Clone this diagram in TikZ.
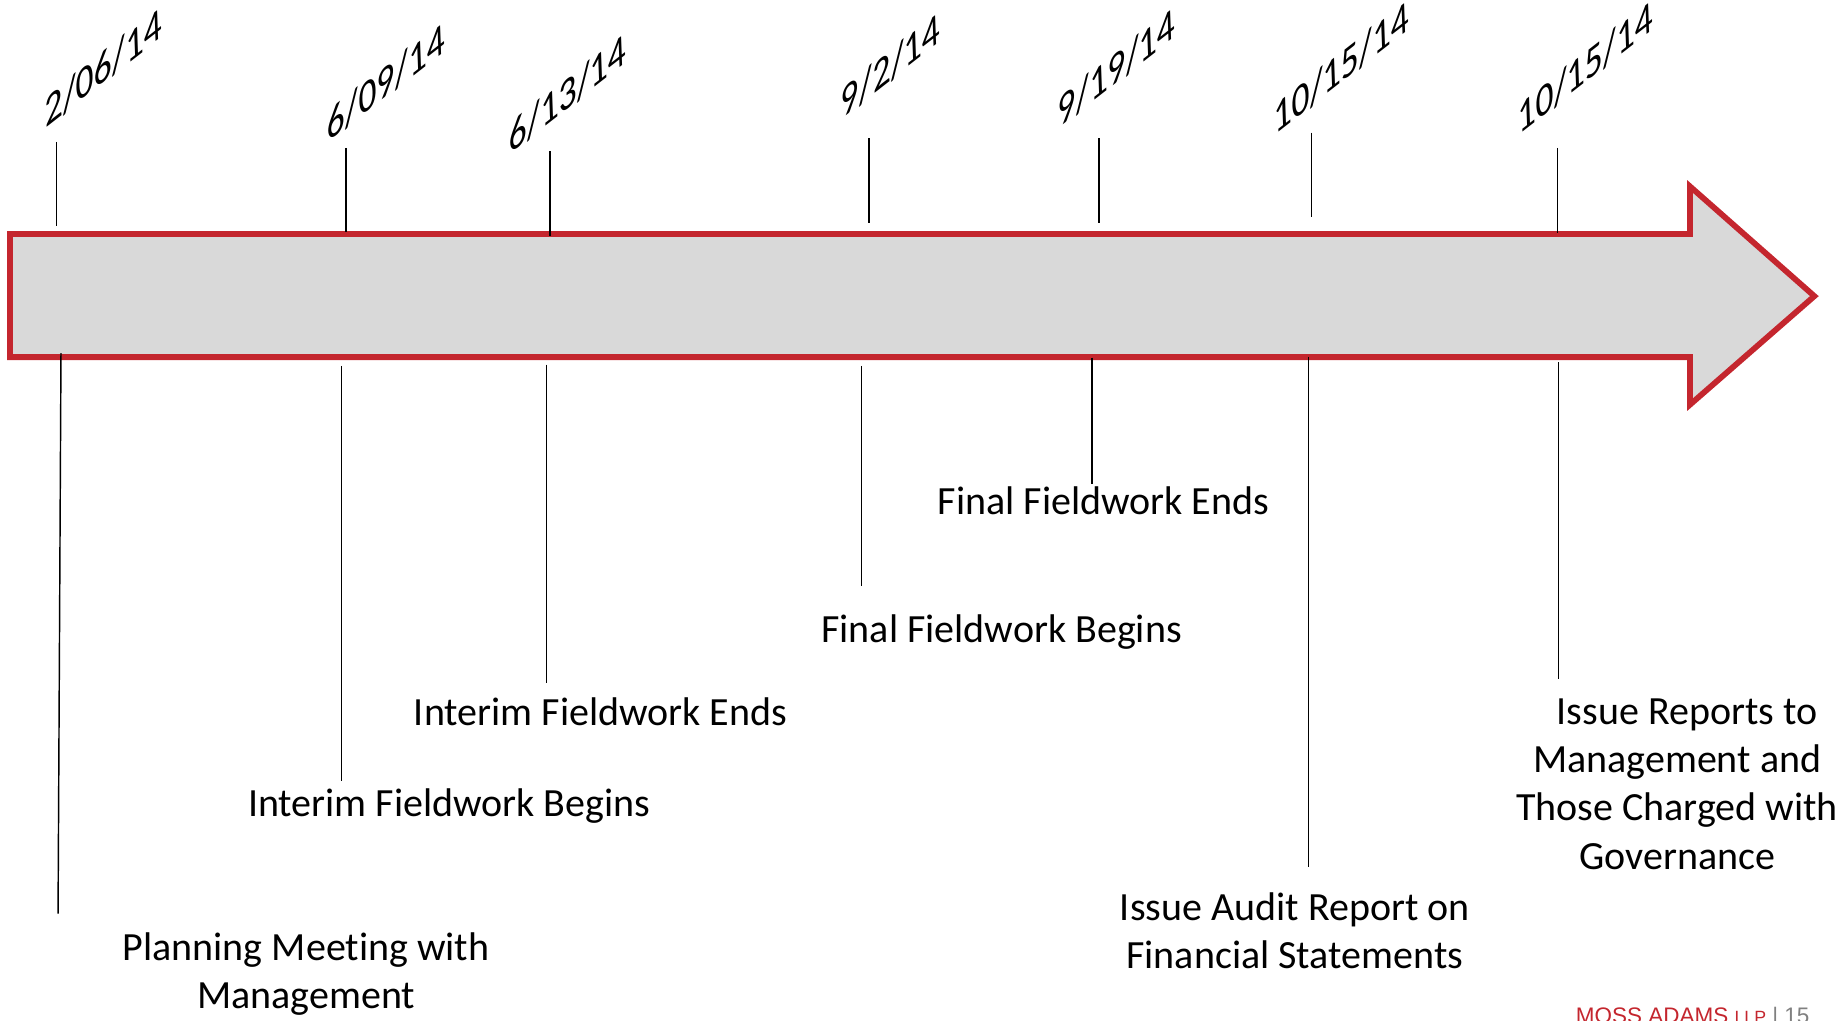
\documentclass[tikz,border=0pt]{standalone}
\usepackage{fontspec}
\setmainfont{Carlito}[Ligatures=NoCommon]
\newfontfamily\footfont{Liberation Sans}
\definecolor{mossred}{RGB}{196,38,46}
\definecolor{bargray}{RGB}{217,217,217}
\definecolor{footgray}{RGB}{128,128,128}
\begin{document}
\begin{tikzpicture}[x=0.01cm, y=-0.01cm,
    date/.style={anchor=base west, inner sep=0pt, cm={0.788,0.616,-0.035,0.999,(0,0)},
      font=\fontsize{10.9}{13}\selectfont},
    event/.style={anchor=base, align=center, inner sep=0pt,
      font=\fontsize{9.7}{11.67}\selectfont},
    tick/.style={line width=0.35pt}]
  \useasboundingbox (0,0) rectangle (1568,870);
  % timeline arrow
  \draw[line width=1.4pt, draw=mossred, fill=bargray, line join=miter]
    (8.5,199.5) -- (1441,199.5) -- (1441,159) -- (1547,252.5) -- (1441,345)
    -- (1441,304.5) -- (8.5,304.5) -- cycle;
  % dates
  \draw
    (38,110) node[date] (d1) {2/06/14}
    (279,122) node[date] (d2) {6/09/14}
    (434,132) node[date] (d3) {6/13/14}
    (717,102) node[date] (d4) {9/2/14}
    (902,110) node[date] (d5) {9/19/14}
    (1086,116) node[date] (d6) {10/15/14}
    (1294,116) node[date] (d7) {10/15/14};
  % events (base = last line)
  \draw
    (261,860) node[event] (e1) {Planning Meeting with\\Management}
    (383,696) node[event] (e2) {Interim Fieldwork Begins}
    (512,619) node[event] (e3) {Interim Fieldwork Ends}
    (854,548) node[event] (e4) {Final Fieldwork Begins}
    (941,439) node[event] (e5) {Final Fieldwork Ends}
    (1104,826) node[event] (e6) {Issue Audit Report on\\Financial Statements}
    (1430,741) node[event] (e7) {\hspace*{0.17cm}Issue Reports to\\Management and\\Those Charged with\\Governance};
  % tick ends
  \path
    (48,121) coordinate (u1) (48,193) coordinate (v1)
    (295,126) coordinate (u2) (295,198) coordinate (v2)
    (469,129) coordinate (u3) (469,201) coordinate (v3)
    (741,118) coordinate (u4) (741,190) coordinate (v4)
    (937,118) coordinate (u5) (937,190) coordinate (v5)
    (1118,113) coordinate (u6) (1118,185) coordinate (v6)
    (1328,126) coordinate (u7) (1328,199) coordinate (v7)
    (52,301) coordinate (p1) (49.5,779) coordinate (q1)
    (291,312) coordinate (p2) (291,666) coordinate (q2)
    (466,311) coordinate (p3) (466,582) coordinate (q3)
    (734.5,312) coordinate (p4) (734.5,500) coordinate (q4)
    (931,305) coordinate (p5) (931,413) coordinate (q5)
    (1115.5,304) coordinate (p6) (1115.5,739) coordinate (q6)
    (1329,309) coordinate (p7) (1329,579) coordinate (q7);
  \begin{scope}[tick]
    \draw (u1) to (v1);
    \draw (u2) to (v2);
    \draw (u3) to (v3);
    \draw (u4) to (v4);
    \draw (u5) to (v5);
    \draw (u6) to (v6);
    \draw (u7) to (v7);
    \draw (p1) to (q1);
    \draw (p2) to (q2);
    \draw (p3) to (q3);
    \draw (p4) to (q4);
    \draw (p5) to (q5);
    \draw (p6) to (q6);
    \draw (p7) to (q7);
  \end{scope}
  % footer
  \node[anchor=base west, inner sep=0pt, font=\footfont\fontsize{5.45}{6}\selectfont] (foot)
    at (1343,873) {\textcolor{mossred}{MOSS ADAMS} {\fontsize{4.3}{5}\selectfont\textcolor{mossred}{LLP}} \textcolor{footgray}{|} \textcolor{footgray}{15}};
\end{tikzpicture}
\end{document}
